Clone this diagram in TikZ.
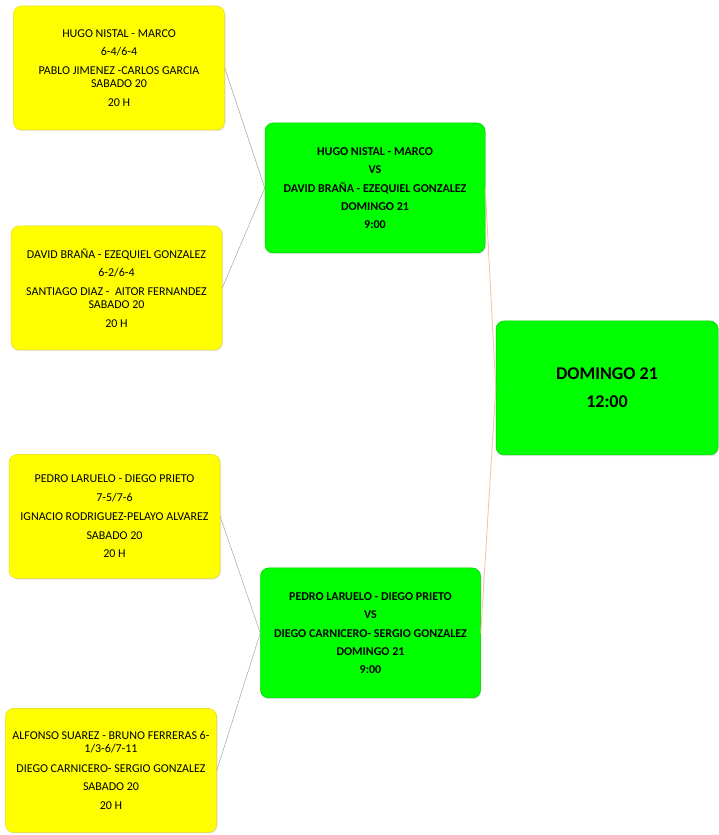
\documentclass[tikz,border=0pt]{standalone}
\usepackage{fontspec}
\setmainfont{Carlito}
\usetikzlibrary{arrows.meta,
                shadows}

\definecolor{amarillo}{RGB}{255,255,0}
\definecolor{verde}{RGB}{0,255,0}
\definecolor{enlace}{RGB}{248,196,168}

\tikzset{
    caja/.style={rounded corners=8pt, align=center, inner sep=0pt,
                 drop shadow={opacity=0.18, shadow xshift=1pt, shadow yshift=-1.2pt}},
    ronda/.style={caja, fill=amarillo, draw=yellow!88!black, line width=0.5pt,
                  minimum width=211pt, minimum height=124pt,
                  font=\fontsize{12}{13.2}\selectfont},
    semi/.style={caja, fill=verde, draw=green!80!black, line width=0.5pt,
                 minimum width=220pt, minimum height=130pt,
                 font=\fontsize{12}{13.2}\selectfont\bfseries},
    final/.style={semi, minimum width=222pt, minimum height=134pt,
                  font=\fontsize{18}{20}\selectfont\bfseries},
    liga/.style={draw=black!35, line width=0.5pt},
    ligafinal/.style={draw=enlace, line width=0.9pt}
}

\begin{document}
\begin{tikzpicture}[x=1pt, y=1pt]
    \useasboundingbox (0,0) rectangle (719,835);

    \node [ronda] (y1) at (119,767) {HUGO NISTAL - MARCO\\[5.5pt] 6-4/6-4\\[5.5pt] PABLO JIMENEZ -CARLOS GARCIA\\ SABADO 20\\[5.5pt] 20 H};
    \node [ronda] (y2) at (116.5,547) {DAVID BRAÑA - EZEQUIEL GONZALEZ\\[5.5pt] 6-2/6-4\\[5.5pt] SANTIAGO DIAZ - \ AITOR FERNANDEZ\\ SABADO 20\\[5.5pt] 20 H};
    \node [ronda] (y3) at (114.5,318.5) {PEDRO LARUELO - DIEGO PRIETO\\[5.5pt] 7-5/7-6\\[5.5pt] IGNACIO RODRIGUEZ-PELAYO ALVAREZ\\[5.5pt] SABADO 20\\[5.5pt] 20 H};
    \node [ronda] (y4) at (111,64.5) {ALFONSO SUAREZ - BRUNO FERRERAS 6-\\ 1/3-6/7-11\\[6.5pt] DIEGO CARNICERO- SERGIO GONZALEZ\\[5.5pt] SABADO 20\\[5.5pt] 20 H};

    \node [semi] (g1) at (375,647) {HUGO NISTAL - MARCO\\[5.3pt] VS\\[5.3pt] DAVID BRAÑA - EZEQUIEL GONZALEZ\\[5.3pt] DOMINGO 21\\[4.5pt] 9:00};
    \node [semi] (g2) at (370.5,202) {PEDRO LARUELO - DIEGO PRIETO\\[5.3pt] VS\\[5.3pt] DIEGO CARNICERO- SERGIO GONZALEZ\\[5.3pt] DOMINGO 21\\[4.5pt] 9:00};

    \node [final] (g3) at (607,447) {DOMINGO 21\\[8pt] 12:00};

    \draw [liga] (y1.east) -- (g1.west);
    \draw [liga] (y2.east) -- (g1.west);
    \draw [liga] (y3.east) -- (g2.west);
    \draw [liga] (y4.east) -- (g2.west);

    \draw [ligafinal] (g1.east) -- (g3.west);
    \draw [ligafinal] (g2.east) -- (g3.west);
\end{tikzpicture}
\end{document}
